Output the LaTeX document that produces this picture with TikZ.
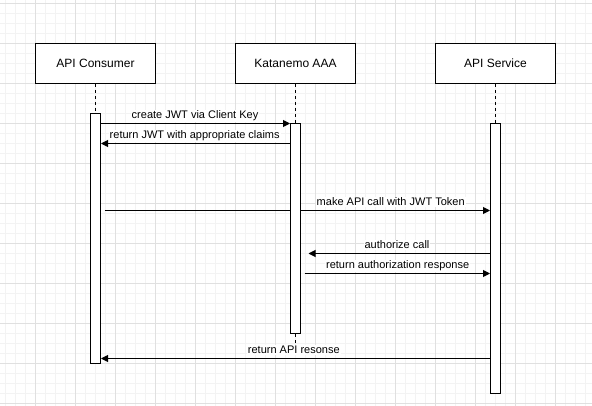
\documentclass[tikz,border=0pt]{standalone}
\usepackage{fontspec}
\setmainfont{Liberation Sans}
\usetikzlibrary{arrows.meta}
\definecolor{gridmajor}{HTML}{E0E0E0}
\definecolor{gridminor}{HTML}{F3F3F3}
\pgfdeclarelayer{gridlayer}
\pgfdeclarelayer{linelayer}
\pgfsetlayers{gridlayer,linelayer,main}
\tikzset{
  actor/.style={draw=black, line width=1pt, fill=white, minimum width=120pt, minimum height=40pt, inner sep=0pt, font=\fontsize{12}{14}\selectfont},
  actbar/.style={draw=black, line width=1pt, fill=white, minimum width=10pt, inner sep=0pt},
  lifeline/.style={draw=black, line width=1pt, dash pattern=on 3pt off 3pt},
  msg/.style={draw=black, line width=1pt, -{Triangle[length=7pt,width=7pt]}},
  lbl/.style={fill=white, inner sep=1pt, anchor=base, font=\fontsize{11}{13}\selectfont},
  minorgrid/.style={draw=gridminor, line width=1pt},
  majorgrid/.style={draw=gridmajor, line width=1pt}
}
\begin{document}
\begin{tikzpicture}[x=1pt,y=-1pt]
\useasboundingbox (0,0) rectangle (592,406);
\begin{pgfonlayer}{gridlayer}
  \fill[white] (0,0) rectangle (592,406);
  \foreach \i in {0,...,59} { \draw[minorgrid] ({5.5+10*\i},0) -- ({5.5+10*\i},406); }
  \foreach \i in {0,...,40} { \draw[minorgrid] (0,{3.5+10*\i}) -- (592,{3.5+10*\i}); }
  \foreach \i in {0,...,14} { \draw[majorgrid] ({35.5+40*\i},0) -- ({35.5+40*\i},406); }
  \foreach \i in {0,...,10} { \draw[majorgrid] (0,{3.5+40*\i}) -- (592,{3.5+40*\i}); }
\end{pgfonlayer}

% actors
\node[actor] (consumer) at (95.5,63.5) {API Consumer};
\node[actor] (aaa) at (295.5,63.5) {Katanemo AAA};
\node[actor] (service) at (495.5,63.5) {API Service};

% activation bars
\node[actbar, minimum height=250pt] (actC) at (95.5,238.5) {};
\node[actbar, minimum height=210pt] (actA) at (295.5,228.5) {};
\node[actbar, minimum height=270pt] (actS) at (495.5,258.5) {};

% helper coordinates
\coordinate (y1) at (0,123.5);
\coordinate (y2) at (0,143.5);
\coordinate (y3) at (0,210.5);
\coordinate (y4) at (0,253.5);
\coordinate (y5) at (0,273.5);
\coordinate (y6) at (0,358.5);
\coordinate (s3) at (104.5,210.5);
\coordinate (e4) at (308.5,253.5);
\coordinate (s5) at (304.5,273.5);
\coordinate (aaaEnd) at (295.5,346);

\begin{pgfonlayer}{linelayer}
  \draw[lifeline] (consumer.south) -- (actC.north);
  \draw[lifeline] (aaa.south) -- (actA.north);
  \draw[lifeline] (service.south) -- (actS.north);
  \draw[lifeline] (actA.south) -- (aaaEnd);
  \draw[msg] (actC.east |- y1) -- (actA.west |- y1);
  \draw[msg] (actA.west |- y2) -- (actC.east |- y2);
  \draw[msg] (s3) -- (actS.west |- y3);
  \draw[msg] (actS.west |- y4) -- (e4);
  \draw[msg] (s5) -- (actS.west |- y5);
  \draw[msg] (actS.west |- y6) -- (actC.east |- y6);
\end{pgfonlayer}

% labels
\node[lbl] (l1) at (195,118.5) {create JWT via Client Key};
\node[lbl] (l2) at (194.7,138.5) {return JWT with appropriate claims};
\node[lbl] (l3) at (390.7,205.5) {make API call with JWT Token};
\node[lbl] (l4) at (397,248.5) {authorize call};
\node[lbl] (l5) at (397.7,268.5) {return authorization response};
\node[lbl] (l6) at (293.8,353.5) {return API resonse};
\end{tikzpicture}
\end{document}
